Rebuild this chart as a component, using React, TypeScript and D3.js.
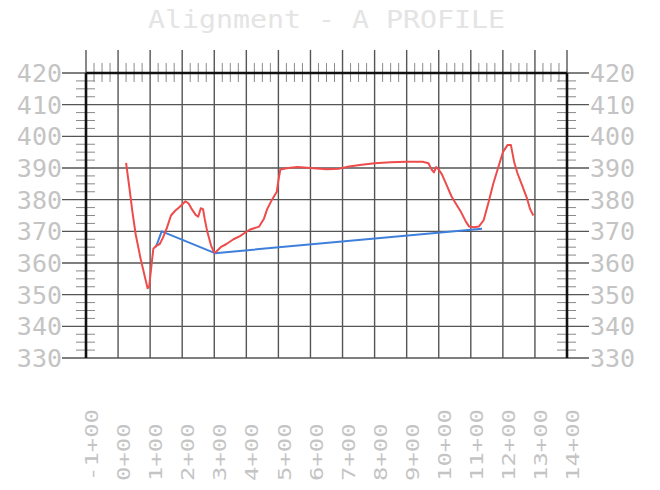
import React from "react";
import * as d3 from "d3";

const title = "Alignment - A PROFILE";
const stationTicks = [-1, 0, 1, 2, 3, 4, 5, 6, 7, 8, 9, 10, 11, 12, 13, 14];
const elevTicks = [330, 340, 350, 360, 370, 380, 390, 400, 410, 420];

const groundStations = [
  0.25, 0.35, 0.45, 0.55, 0.7, 0.85, 0.92, 0.97, 1.05, 1.1, 1.2, 1.3, 1.4, 1.52, 1.65,
  1.78, 1.9, 2.0, 2.1, 2.2, 2.3, 2.42, 2.5, 2.58, 2.65, 2.7, 2.78, 2.9, 3.0, 3.05,
  3.2, 3.38, 3.6, 3.8, 4.1, 4.4, 4.55, 4.65, 4.8, 4.95, 5.0, 5.06, 5.3, 5.6, 6.0,
  6.5, 6.9, 7.2, 7.6, 8.0, 8.5, 9.0, 9.5, 9.68, 9.78, 9.85, 9.92, 10.0, 10.1, 10.25,
  10.4, 10.55, 10.7, 10.85, 10.95, 11.1, 11.25, 11.4, 11.55, 11.7, 11.85, 12.0, 12.15,
  12.25, 12.35, 12.45, 12.6, 12.75, 12.85, 12.95,
];
const groundElev = [
  391.6, 384, 376, 369, 361.5, 355, 352, 352.5, 360, 364.5, 365.5, 366, 368, 371, 375,
  376.5, 377.5, 378.5, 379.5, 378.8, 377, 375.2, 374.6, 377.3, 377, 374, 370, 365.5, 363.3, 363.5,
  365, 366, 367.5, 368.5, 370.5, 371.5, 374, 377, 380, 382.5, 386, 389.5, 390, 390.3, 390,
  389.6, 389.8, 390.5, 391, 391.5, 391.8, 392, 392, 391.5, 389.5, 388.6, 390.3, 389.5, 388, 384.5,
  381, 378.5, 376, 373, 371.5, 371.3, 371.5, 373.5, 379, 385, 390, 395, 397.3,
  397.3, 392, 388.5, 384.5, 380.5, 377, 375,
];

const gradeStations = [1.18, 1.36, 3.02, 11.35];
const gradeElev = [365, 370, 363.1, 370.8];

const W = 660;
const H = 490;

export default function App() {
  const x = d3.scaleLinear().domain([-1, 14]).range([86, 567]);
  const y = d3.scaleLinear().domain([330, 420]).range([358, 73]);

  const line = d3
    .line<[number, number]>()
    .x((d) => x(d[0]))
    .y((d) => y(d[1]))
    .curve(d3.curveLinear);

  const ground = groundStations.map((s, i) => [s, groundElev[i]] as [number, number]);
  const grade = gradeStations.map((s, i) => [s, gradeElev[i]] as [number, number]);

  const minorX: number[] = [];
  for (let i = 0; i < stationTicks.length - 1; i++) {
    for (let k = 1; k <= 3; k++) minorX.push(stationTicks[i] + k * 0.25);
  }
  const minorY: number[] = [];
  for (let i = 0; i < elevTicks.length - 1; i++) {
    for (let k = 1; k <= 3; k++) minorY.push(elevTicks[i] + k * 2.5);
  }

  const gridColor = "#555";
  const labelColor = "#c4c4c4";
  const mono = "'DejaVu Sans Mono', 'Liberation Mono', monospace";
  const [x0, x1] = x.range();
  const [yb, yt] = y.range();

  return (
    <svg
      width={W}
      height={H}
      viewBox={`0 0 ${W} ${H}`}
      style={{ position: "absolute", left: 0, top: 0, background: "#fff" }}
    >
      <rect x={0} y={0} width={W} height={H} fill="#fff" />
      <text
        x={148}
        y={28}
        fontFamily={mono}
        fontSize={25}
        fill="#e4e4e4"
        textLength={357}
        lengthAdjust="spacingAndGlyphs"
      >
        {title}
      </text>

      {elevTicks.map((v) => (
        <line key={"h" + v} x1={62} x2={589} y1={y(v)} y2={y(v)} stroke={gridColor} strokeWidth={1.4} />
      ))}
      {stationTicks.map((s) => (
        <line key={"v" + s} x1={x(s)} x2={x(s)} y1={50} y2={yb} stroke={gridColor} strokeWidth={1.4} />
      ))}
      {minorX.map((s) => (
        <line key={"mx" + s} x1={x(s)} x2={x(s)} y1={yt - 10} y2={yt + 9} stroke="#8a8a8a" strokeWidth={1} />
      ))}
      {minorY.map((v) => (
        <g key={"my" + v}>
          <line x1={x0 - 10} x2={x0 + 9} y1={y(v)} y2={y(v)} stroke="#8a8a8a" strokeWidth={1} />
          <line x1={x1 - 10} x2={x1 + 9} y1={y(v)} y2={y(v)} stroke="#8a8a8a" strokeWidth={1} />
        </g>
      ))}
      <line x1={x0} x2={x1} y1={yt} y2={yt} stroke="#111" strokeWidth={2.4} />
      <line x1={x0} x2={x0} y1={yt} y2={yb} stroke="#111" strokeWidth={2.6} />
      <line x1={x1} x2={x1} y1={yt} y2={yb} stroke="#111" strokeWidth={2.6} />

      {elevTicks.map((v) => (
        <g key={"yl" + v}>
          <text x={62} y={y(v)} dy="0.36em" textAnchor="end" fontFamily={mono} fontSize={25} fill={labelColor}>
            {v}
          </text>
          <text x={590} y={y(v)} dy="0.36em" textAnchor="start" fontFamily={mono} fontSize={25} fill={labelColor}>
            {v}
          </text>
        </g>
      ))}

      {stationTicks.map((s) => {
        const label = `${s}+00`;
        const cx = x(s) + 6;
        return (
          <text
            key={"xl" + s}
            transform={`translate(${cx},481) rotate(-90)`}
            dy="0.36em"
            fontFamily={mono}
            fontSize={17}
            fill={labelColor}
            textLength={label.length * 14.4}
            lengthAdjust="spacingAndGlyphs"
          >
            {label}
          </text>
        );
      })}

      <path d={line(grade) || ""} fill="none" stroke="#3f7fdc" strokeWidth={2} strokeLinejoin="round" />
      <path d={line(ground) || ""} fill="none" stroke="#ee4c4c" strokeWidth={2} strokeLinejoin="round" />
    </svg>
  );
}
